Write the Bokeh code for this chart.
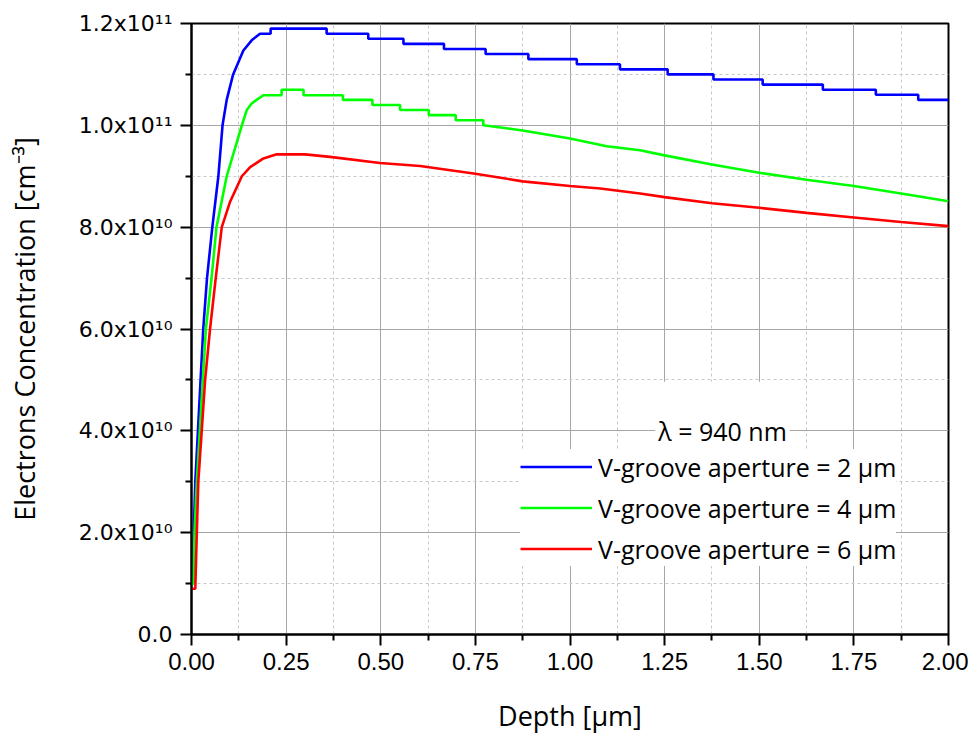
import numpy as np
from bokeh.plotting import figure
from bokeh.models import Range1d, FixedTicker, Legend, LegendItem, Label, PrintfTickFormatter
from bokeh.embed import file_html
from bokeh.resources import INLINE

# ---------------- data (depth in um, concentration in units of 1e10 cm^-3) ----------------
SCALE = 1e10

blue_depth = [0.000, 0.003, 0.006, 0.010, 0.017, 0.024, 0.031, 0.041, 0.055, 0.071, 0.082, 0.093,
              0.110, 0.137, 0.159, 0.181, 0.209, 0.209, 0.357, 0.357, 0.467, 0.467, 0.560, 0.560,
              0.667, 0.667, 0.777, 0.777, 0.890, 0.890, 1.018, 1.018, 1.132, 1.132, 1.258, 1.258,
              1.379, 1.379, 1.509, 1.509, 1.668, 1.668, 1.808, 1.808, 1.920, 1.920, 2.000]
blue_conc = [1.00, 1.30, 2.00, 3.00, 4.00, 5.00, 6.00, 7.00, 8.00, 9.00, 10.00, 10.50,
             11.00, 11.47, 11.67, 11.80, 11.80, 11.90, 11.90, 11.80, 11.80, 11.70, 11.70, 11.60,
             11.60, 11.50, 11.50, 11.40, 11.40, 11.30, 11.30, 11.20, 11.20, 11.10, 11.10, 11.00,
             11.00, 10.90, 10.90, 10.80, 10.80, 10.70, 10.70, 10.60, 10.60, 10.50, 10.50]

green_depth = [0.000, 0.005, 0.008, 0.014, 0.022, 0.030, 0.038, 0.053, 0.066, 0.093, 0.133, 0.146,
               0.159, 0.172, 0.190, 0.238, 0.238, 0.296, 0.296, 0.400, 0.400, 0.478, 0.478, 0.551,
               0.551, 0.627, 0.627, 0.698, 0.698, 0.771, 0.771, 0.875, 1.000, 1.097, 1.185, 1.250,
               1.375, 1.500, 1.625, 1.750, 1.875, 2.000]
green_conc = [1.00, 1.00, 2.00, 3.00, 4.00, 5.00, 6.00, 7.00, 8.00, 9.00, 10.00, 10.30,
              10.43, 10.50, 10.59, 10.59, 10.70, 10.70, 10.59, 10.59, 10.50, 10.50, 10.40, 10.40,
              10.30, 10.30, 10.20, 10.20, 10.10, 10.10, 10.00, 9.90, 9.74, 9.59, 9.51, 9.41,
              9.23, 9.07, 8.93, 8.81, 8.66, 8.51]

red_depth = [0.000, 0.010, 0.014, 0.018, 0.027, 0.036, 0.049, 0.064, 0.080, 0.102, 0.133, 0.155,
             0.190, 0.225, 0.300, 0.366, 0.498, 0.604, 0.750, 0.875, 1.000, 1.080, 1.185, 1.250,
             1.375, 1.500, 1.625, 1.750, 1.875, 2.000]
red_conc = [0.90, 0.90, 2.00, 3.00, 4.00, 5.00, 6.00, 7.00, 8.00, 8.50, 9.00, 9.18,
            9.35, 9.43, 9.43, 9.38, 9.26, 9.20, 9.05, 8.90, 8.81, 8.76, 8.66, 8.59,
            8.47, 8.38, 8.28, 8.19, 8.10, 8.02]

series_labels = ["V-groove aperture = 2 \u03bcm", "V-groove aperture = 4 \u03bcm", "V-groove aperture = 6 \u03bcm"]
series_colors = ["#0000ff", "#00ff00", "#ff0000"]

x_major_ticks = [0.0, 0.25, 0.5, 0.75, 1.0, 1.25, 1.5, 1.75, 2.0]
x_minor_ticks = [0.125, 0.375, 0.625, 0.875, 1.125, 1.375, 1.625, 1.875]
y_major_ticks = [0, 2, 4, 6, 8, 10, 12]
y_minor_ticks = [1, 3, 5, 7, 9, 11]
y_tick_labels = ["0.0", "2.0x10\u00b9\u2070", "4.0x10\u00b9\u2070", "6.0x10\u00b9\u2070",
                 "8.0x10\u00b9\u2070", "1.0x10\u00b9\u00b9", "1.2x10\u00b9\u00b9"]
legend_title = "\u03bb = 940 nm"

# ---------------- figure ----------------
p = figure(width=968, height=736, output_backend="svg", toolbar_location=None,
           x_range=Range1d(0, 2.0), y_range=Range1d(0, 12 * SCALE),
           min_border_left=191, min_border_right=20, min_border_top=23, min_border_bottom=102)
p.background_fill_color = "white"
p.border_fill_color = "white"
p.outline_line_color = "black"
p.outline_line_width = 2

renderers = []
for xs, ys, c in [(blue_depth, blue_conc, series_colors[0]),
                  (green_depth, green_conc, series_colors[1]),
                  (red_depth, red_conc, series_colors[2])]:
    r = p.line(np.array(xs), np.array(ys) * SCALE, line_color=c, line_width=2.6)
    renderers.append(r)

# axes
p.xaxis.ticker = FixedTicker(ticks=x_major_ticks, minor_ticks=x_minor_ticks)
p.xaxis.formatter = PrintfTickFormatter(format="%.2f")
p.yaxis.ticker = FixedTicker(ticks=[t * SCALE for t in y_major_ticks],
                             minor_ticks=[t * SCALE for t in y_minor_ticks])
p.yaxis.major_label_overrides = {int(t * SCALE): lab for t, lab in zip(y_major_ticks, y_tick_labels)}

for ax in (p.xaxis[0], p.yaxis[0]):
    ax.axis_line_color = "black"
    ax.axis_line_width = 2
    ax.major_tick_line_color = "black"
    ax.major_tick_line_width = 2
    ax.minor_tick_line_color = "black"
    ax.minor_tick_line_width = 2
    ax.major_tick_in = 0
    ax.minor_tick_in = 0
    ax.major_tick_out = 11
    ax.minor_tick_out = 6
    ax.major_label_text_color = "black"
    ax.axis_label_text_font = "Open Sans"
    ax.axis_label_text_font_style = "normal"
    ax.axis_label_text_font_size = "27px"
    ax.axis_label_text_color = "black"

p.xaxis.major_label_text_font = "Liberation Sans"
p.xaxis.major_label_text_font_size = "24px"
p.xaxis.major_label_standoff = 7
p.xaxis.axis_label = "Depth [\u03bcm]"
p.xaxis.axis_label_standoff = 24

p.yaxis.major_label_text_font = "DejaVu Sans"
p.yaxis.major_label_text_font_size = "22px"
p.yaxis.major_label_standoff = 8
p.yaxis.axis_label = "Electrons Concentration [cm\u207b\u00b3]"
p.yaxis.axis_label_standoff = 33

# grids
for g in (p.xgrid[0], p.ygrid[0]):
    g.grid_line_color = "#a6a6a6"
    g.grid_line_width = 1
    g.minor_grid_line_color = "#c8c8c8"
    g.minor_grid_line_width = 1
    g.minor_grid_line_dash = "3 3"
p.xgrid.ticker = p.xaxis[0].ticker
p.ygrid.ticker = p.yaxis[0].ticker

# legend
items = [LegendItem(label=lab, renderers=[r]) for lab, r in zip(series_labels, renderers)]
legend = Legend(items=items, location=(329, 68), margin=0, padding=4, spacing=6,
                glyph_width=72, glyph_height=35, label_height=35, label_standoff=6,
                border_line_color=None, background_fill_color="white", background_fill_alpha=1.0,
                label_text_font="Open Sans", label_text_font_size="25px", label_text_color="black")
p.add_layout(legend)

title_label = Label(x=1.403, y=4.0 * SCALE, text=legend_title, text_align="center",
                    text_baseline="middle", text_font="Open Sans", text_font_size="25px",
                    text_color="black", background_fill_color="white", background_fill_alpha=1.0,
                    padding=(3, 32))
p.add_layout(title_label)

open("out.html", "w").write(file_html(p, INLINE))
